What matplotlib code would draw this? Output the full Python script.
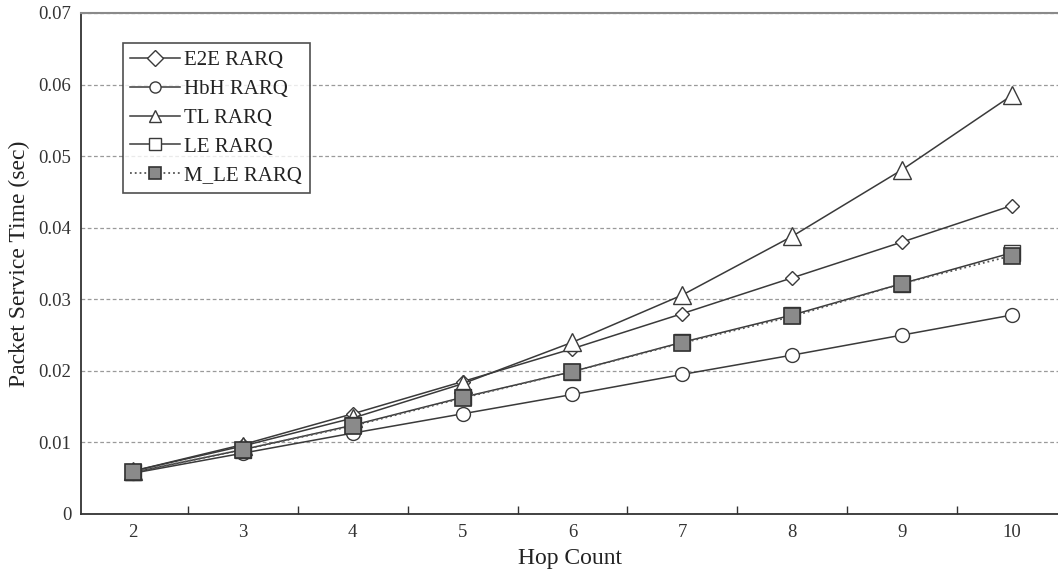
import matplotlib
matplotlib.use("Agg")
import matplotlib.pyplot as plt
from matplotlib.ticker import FixedLocator

hops = [2, 3, 4, 5, 6, 7, 8, 9, 10]
e2e = [0.0060, 0.0097, 0.0140, 0.0185, 0.0231, 0.0280, 0.0330, 0.0380, 0.0431]
hbh = [0.0057, 0.0085, 0.0113, 0.0140, 0.0167, 0.0195, 0.0222, 0.0250, 0.0278]
tl = [0.0060, 0.0095, 0.0134, 0.0182, 0.0240, 0.0306, 0.0388, 0.0481, 0.0585]
le = [0.0058, 0.0090, 0.0124, 0.0163, 0.0199, 0.0240, 0.0278, 0.0322, 0.0365]
m_le = [0.0058, 0.0090, 0.0123, 0.0162, 0.0199, 0.0239, 0.0276, 0.0322, 0.0361]
labels = ["E2E RARQ", "HbH RARQ", "TL RARQ", "LE RARQ", "M_LE RARQ"]
yticks = [0, 0.01, 0.02, 0.03, 0.04, 0.05, 0.06, 0.07]
ytick_labels = ["0", "0.01", "0.02", "0.03", "0.04", "0.05", "0.06", "0.07"]

plt.rcParams['font.family'] = ['Liberation Serif', 'DejaVu Serif']

fig = plt.figure(figsize=(10.58, 5.73), dpi=100)
ax = fig.add_axes([81/1058, 1 - 514/573, 1 - 81/1058, (514 - 13)/573])

lc = '#3a3a3a'
ax.plot(hops, e2e, '-', color=lc, lw=1.1, marker='D', ms=7, mfc='white', mec=lc, mew=1.0, label=labels[0])
ax.plot(hops, hbh, '-', color=lc, lw=1.1, marker='o', ms=10, mfc='white', mec=lc, mew=1.0, label=labels[1])
ax.plot(hops, tl, '-', color=lc, lw=1.1, marker='^', ms=13, mfc='white', mec=lc, mew=1.0, label=labels[2])
ax.plot(hops, le, '-', color=lc, lw=1.1, marker='s', ms=11, mfc='white', mec=lc, mew=1.0, label=labels[3])
ax.plot(hops, m_le, ':', color='#555555', lw=1.3, marker='s', ms=11, mfc='#8a8a8a', mec='#333333', mew=1.2, label=labels[4])

ax.set_xlim(1.527, 10.419)
ax.set_ylim(0, 0.07)
ax.set_xticks(hops)
ax.set_xticklabels([str(h) for h in hops])
ax.xaxis.set_minor_locator(FixedLocator([h + 0.5 for h in hops[:-1]]))
ax.tick_params(axis='x', which='major', length=0, pad=7, labelsize=13.5, colors='#333333')
ax.tick_params(axis='x', which='minor', direction='in', length=6, width=1, color='#333333')
ax.set_yticks(yticks)
ax.set_yticklabels(ytick_labels)
ax.tick_params(axis='y', length=0, pad=7, labelsize=13.5, colors='#333333')

ax.grid(axis='y', linestyle=(0, (3, 2)), color='#9a9a9a', lw=0.9)
ax.set_axisbelow(True)

ax.spines['right'].set_visible(False)
ax.spines['top'].set_color('#8a8a8a')
ax.spines['top'].set_linewidth(1.5)
ax.spines['left'].set_color('#333333')
ax.spines['bottom'].set_color('#333333')
ax.spines['left'].set_linewidth(1.3)
ax.spines['bottom'].set_linewidth(1.3)

ax.set_xlabel("Hop Count", fontsize=17, color='#222222', labelpad=5)
ax.set_ylabel("Packet Service Time (sec)", fontsize=17, color='#222222', labelpad=6)

leg = ax.legend(loc='upper left', bbox_to_anchor=(123/1058, 1 - 43/573), bbox_transform=fig.transFigure,
                fontsize=15, frameon=True, fancybox=False, handlelength=2.4, handletextpad=0.2,
                borderpad=0.35, labelspacing=0.45, borderaxespad=0)
leg.get_frame().set_edgecolor('#222222')
leg.get_frame().set_linewidth(1.2)
for h in leg.legend_handles:
    h.set_markersize(8)
for t in leg.get_texts():
    t.set_color('#222222')

fig.savefig("out.png", dpi=100)
